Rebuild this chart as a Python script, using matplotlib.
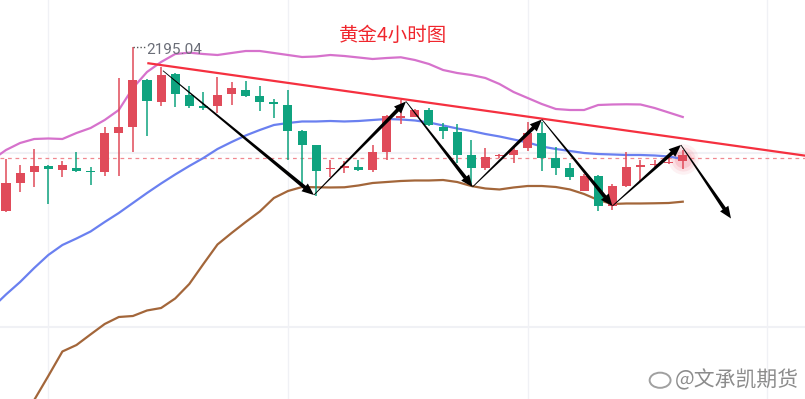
import numpy as np
import matplotlib
matplotlib.use('Agg')
import matplotlib.pyplot as plt
from matplotlib.patches import Polygon, Ellipse
from matplotlib.transforms import IdentityTransform

plt.rcParams['font.family'] = ['Noto Sans CJK SC', 'DejaVu Sans']

# 4h candles (price)
opens = [2154.05, 2161.05, 2163.80, 2165.30, 2164.30, 2164.80, 2164.05, 2163.80, 2173.43, 2175.05,
         2186.80, 2181.30, 2188.18, 2183.05, 2180.30, 2180.30, 2183.18, 2184.30, 2182.80, 2181.30,
         2180.55, 2174.05, 2170.55, 2164.43, 2164.80, 2165.05, 2164.30, 2168.68, 2177.30, 2177.55,
         2179.30, 2175.05, 2173.80, 2168.05, 2164.68, 2167.68, 2168.05, 2169.80, 2173.43, 2167.18,
         2164.68, 2159.05, 2162.80, 2155.18, 2160.18, 2165.05, 2165.43, 2165.93, 2166.43]
highs = [2167.05, 2165.55, 2169.55, 2165.43, 2166.55, 2168.80, 2165.05, 2175.05, 2187.18, 2195.04,
         2187.05, 2190.05, 2188.43, 2185.30, 2183.68, 2187.43, 2186.18, 2186.55, 2185.30, 2181.93,
         2184.30, 2174.30, 2170.55, 2166.80, 2166.55, 2166.68, 2170.55, 2178.05, 2181.80, 2179.55,
         2179.68, 2175.93, 2175.80, 2171.80, 2169.80, 2168.18, 2170.18, 2176.18, 2176.30, 2170.05,
         2166.05, 2163.18, 2162.93, 2160.80, 2168.68, 2166.68, 2166.68, 2167.68, 2169.18]
lows = [2153.68, 2158.80, 2160.05, 2155.68, 2162.55, 2163.80, 2160.55, 2162.80, 2162.80, 2168.80,
        2172.80, 2180.30, 2180.05, 2179.68, 2179.30, 2178.43, 2180.43, 2182.55, 2179.05, 2177.18,
        2166.68, 2160.55, 2157.80, 2162.43, 2163.43, 2164.05, 2163.68, 2166.80, 2175.68, 2177.43,
        2175.18, 2171.93, 2166.05, 2160.55, 2164.18, 2167.18, 2166.05, 2168.93, 2163.93, 2162.93,
        2161.68, 2158.93, 2154.05, 2154.30, 2160.05, 2161.55, 2164.80, 2165.68, 2164.43]
closes = [2161.05, 2163.55, 2165.30, 2164.55, 2165.55, 2164.05, 2163.68, 2173.43, 2174.93, 2186.80,
          2181.55, 2188.05, 2183.18, 2180.30, 2179.80, 2183.05, 2184.80, 2182.80, 2181.18, 2180.68,
          2174.05, 2170.55, 2164.05, 2164.80, 2165.18, 2164.30, 2168.68, 2177.80, 2177.80, 2179.30,
          2175.55, 2173.93, 2168.05, 2164.80, 2167.43, 2168.05, 2169.30, 2173.43, 2167.18, 2164.68,
          2162.43, 2162.80, 2155.18, 2160.18, 2164.93, 2165.55, 2165.80, 2166.18, 2168.05]

# Bollinger bands, starting one bar before the first visible candle
bb_upper = [2166.80,
            2169.30, 2171.05, 2172.05, 2172.18, 2172.05, 2173.55, 2174.80, 2176.80, 2179.30, 2184.80,
            2188.80, 2191.30, 2193.30, 2193.63, 2193.30, 2193.05, 2193.55, 2194.05, 2194.05, 2193.55,
            2193.05, 2192.55, 2192.68, 2193.05, 2192.80, 2192.43, 2192.05, 2192.30, 2192.48, 2191.80,
            2190.80, 2189.30, 2188.55, 2188.05, 2187.30, 2185.80, 2183.80, 2182.30, 2180.80, 2179.55,
            2179.30, 2179.30, 2180.55, 2180.68, 2180.73, 2180.68, 2179.80, 2178.68, 2177.55]
bb_mid = [2129.80,
          2133.18, 2136.30, 2139.80, 2143.05, 2145.55, 2147.18, 2148.93, 2151.30, 2153.55, 2156.05,
          2158.55, 2160.93, 2163.18, 2165.30, 2167.30, 2169.55, 2171.30, 2172.93, 2174.30, 2175.55,
          2176.05, 2176.43, 2176.43, 2176.55, 2176.43, 2176.55, 2176.80, 2177.05, 2176.93, 2176.68,
          2176.18, 2175.43, 2174.68, 2174.05, 2173.30, 2172.68, 2171.93, 2171.18, 2170.18, 2169.55,
          2169.05, 2168.55, 2168.30, 2168.18, 2168.05, 2168.05, 2167.93, 2167.68, 2167.05]
bb_lower = [2087.00,
            2093.80, 2100.55, 2106.80, 2112.80, 2118.93, 2120.55, 2123.20, 2125.80, 2127.55, 2127.80,
            2129.18, 2129.80, 2132.18, 2135.80, 2140.80, 2145.68, 2148.55, 2151.30, 2153.93, 2157.30,
            2159.05, 2160.05, 2159.98, 2159.93, 2159.98, 2160.43, 2161.05, 2161.30, 2161.55, 2161.68,
            2161.68, 2161.80, 2161.30, 2160.30, 2159.68, 2159.43, 2159.93, 2160.30, 2160.30, 2160.05,
            2159.43, 2158.30, 2156.80, 2155.80, 2155.93, 2155.93, 2155.98, 2156.05, 2156.38]

last_price = 2167.23
peak_price = 2195.04

# resistance line and the drawn wave path (bar index, price)
trend_x = [10.1, 58.0]
trend_y = [2190.98, 2167.23]
wave_x = [11.13, 21.84, 28.37, 33.09, 38.01, 43.01, 47.87, 51.42]
wave_y = [2189.13, 2158.05, 2181.43, 2160.05, 2176.93, 2155.30, 2170.55, 2152.18]

grid_x = [3, 20, 37, 54]
grid_y = [2168.55, 2125.05]

UP = '#e04b5a'
DOWN = '#0fa37f'


def tapered_arrow(ax, p0, p1, w0=0.8, w1=3.8, head_len=12, head_w=10):
    # thin at the tail, thicker toward the head, drawn in pixel space
    a = ax.transData.transform(p0)
    b = ax.transData.transform(p1)
    d = b - a
    u = d / np.hypot(*d)
    n = np.array([-u[1], u[0]])
    c = b - u * head_len
    pts = [a + n * w0 / 2, c + n * w1 / 2, c + n * head_w / 2, b,
           c - n * head_w / 2, c - n * w1 / 2, a - n * w0 / 2]
    ax.add_patch(Polygon(pts, closed=True, transform=IdentityTransform(),
                         facecolor='black', edgecolor='none', zorder=6))


fig = plt.figure(figsize=(8.05, 3.99), dpi=100)
ax = fig.add_axes([0, 0, 1, 1])
ax.set_xlim(-0.4255, 56.67)
ax.set_ylim(2107.05, 2206.8)
ax.set_axis_off()

for gx in grid_x:
    ax.axvline(gx, color='#f0f1f5', lw=1, zorder=0)
for gy in grid_y:
    ax.axhline(gy, color='#f0f1f5', lw=1.5, zorder=0)

x = np.arange(len(opens))
o, h, l, c = map(np.array, (opens, highs, lows, closes))
colors = [UP if cc >= oo else DOWN for oo, cc in zip(o, c)]
ax.vlines(x, l, h, colors=colors, lw=1.3, alpha=0.85, zorder=3)
body = np.maximum(np.abs(c - o), 0.4)
ax.bar(x, body, bottom=np.minimum(o, c), width=0.64, color=colors, zorder=3)

# glow on the live candle
for s, a in [(480, 0.10), (300, 0.15), (160, 0.22)]:
    ax.scatter([x[-1]], [c[-1] - 1], s=s, color='#f07a8a', alpha=a, lw=0, zorder=2)

bx = np.arange(-1, len(bb_mid) - 1)
ax.plot(bx, bb_upper, color='#d672cc', lw=1.6, zorder=2)
ax.plot(bx, bb_mid, color='#6a80f0', lw=1.6, zorder=2)
ax.plot(bx, bb_lower, color='#a3663a', lw=1.6, zorder=2)

ax.axhline(last_price, color='#f08890', lw=0.9, ls=(0, (3, 3)), zorder=1)
ax.plot(trend_x, trend_y, color='#f5303f', lw=1.6, zorder=4)

# peak label
ip = int(np.argmax(h))
ax.plot([ip, ip + 0.9], [peak_price, peak_price], ls=(0, (1, 1.5)), color='#555555', lw=1, zorder=4)
ax.annotate(f'{peak_price:.2f}', xy=(ip + 0.95, peak_price), xytext=(0, -2),
            textcoords='offset points', ha='left', va='center',
            fontsize=11, color='#6b6e78', family=['Roboto', 'DejaVu Sans'])

fig.canvas.draw()
for k in range(len(wave_x) - 1):
    tapered_arrow(ax, (wave_x[k], wave_y[k]), (wave_x[k + 1], wave_y[k + 1]))

fig.text(0.488, 0.912, '黄金4小时图', color='#f0262d', fontsize=14, ha='center', va='center')

# watermark
ax.add_patch(Ellipse((0.82, 0.047), 0.026, 0.038, transform=fig.transFigure,
                     fill=False, edgecolor='#a0a0a0', lw=1.4, zorder=7))
fig.text(0.992, 0.047, '@文承凯期货', ha='right', va='center', fontsize=15, color='#8c8c8c')

fig.savefig('out.png', dpi=100, facecolor='white')
